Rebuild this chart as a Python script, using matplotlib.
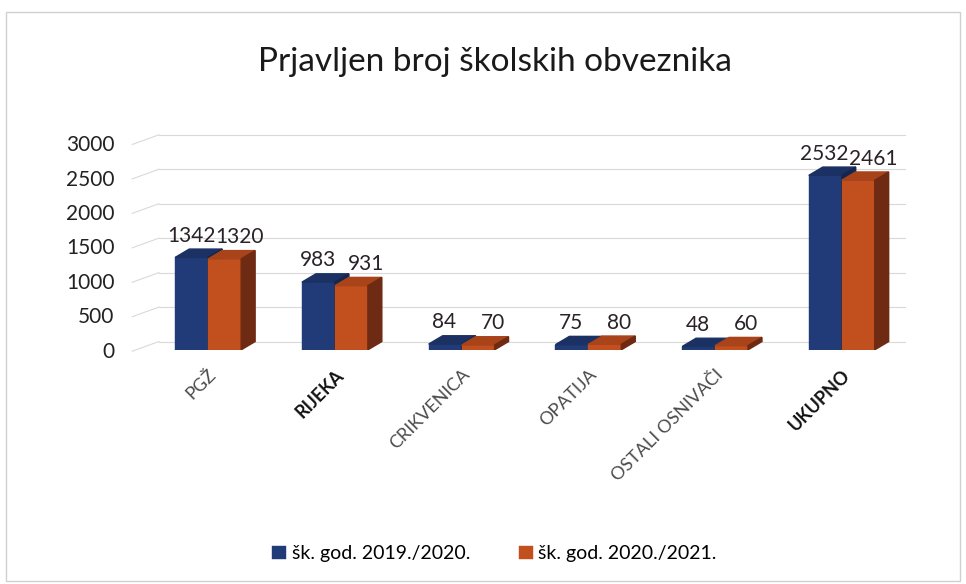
import matplotlib.pyplot as plt
from matplotlib.patches import Polygon, Rectangle
import numpy as np

plt.rcParams['font.family'] = ['Lato', 'DejaVu Sans']

# data
categories = ["PGŽ", "RIJEKA", "CRIKVENICA", "OPATIJA", "OSTALI OSNIVAČI", "UKUPNO"]
series_names = ["šk. god. 2019./2020.", "šk. god. 2020./2021."]
values_1920 = [1342, 983, 84, 75, 48, 2532]
values_2021 = [1320, 931, 70, 80, 60, 2461]
yticks = [0, 500, 1000, 1500, 2000, 2500, 3000]

front_cols = ["#203b78", "#c24f1e"]
top_cols = ["#1b3163", "#a9431a"]
side_cols = ["#142650", "#6e2a12"]

fig = plt.figure(figsize=(9.66, 5.84), dpi=100)
ax = fig.add_axes([0.150, 0.401, 0.787, 0.354])

x = np.arange(len(categories))
w = 0.26      # bar width
dx = 0.11     # depth in x
dy = 120      # depth in y

# back wall gridlines + short slanted floor lines on the left
for t in yticks:
    ax.plot([-0.5 + dx, 5.5], [t + dy, t + dy], color="#d9d9d9", lw=0.8, zorder=0, clip_on=False)
    ax.plot([-0.5 - 0.1, -0.5 + dx], [t - 20, t + dy], color="#d9d9d9", lw=0.8, zorder=0, clip_on=False)

shift = [-0.06, 0.06]
for k, vals in enumerate([values_1920, values_2021]):
    left = x - w + k * w
    ax.bar(left, vals, width=w, align="edge", color=front_cols[k], zorder=3 + k,
           label=series_names[k], edgecolor=front_cols[k], lw=0.3)
    for xl, v in zip(left, vals):
        top = Polygon([(xl, v), (xl + w, v), (xl + w + dx, v + dy), (xl + dx, v + dy)],
                      closed=True, color=top_cols[k], zorder=3 + k)
        side = Polygon([(xl + w, 0), (xl + w + dx, dy), (xl + w + dx, v + dy), (xl + w, v)],
                       closed=True, color=side_cols[k], zorder=3 + k)
        ax.add_patch(top)
        ax.add_patch(side)
    for xc, v in zip(left + w / 2, vals):
        ax.text(xc + dx / 2 + shift[k], v + dy + 50, str(v), ha="center", va="bottom",
                fontsize=15, color="#2a2228", zorder=10)

ax.set_xlim(-0.5, 5.5)
ax.set_ylim(0, 3000)
ax.set_yticks(yticks)
ax.set_yticklabels([str(t) for t in yticks], fontsize=15, color="#222222")
ax.set_xticks(x)
ax.set_xticklabels(categories, rotation=45, ha="right", rotation_mode="anchor",
                   fontsize=13, color="#4a4a4a")
for lab in ax.get_xticklabels():
    if lab.get_text() in ("RIJEKA", "UKUPNO"):
        lab.set_color("#111111")
        lab.set_fontweight("bold")
ax.tick_params(axis="both", length=0)
ax.tick_params(axis="x", pad=12)
ax.tick_params(axis="y", pad=22)
for s in ax.spines.values():
    s.set_visible(False)

fig.text(0.512, 0.893, "Prjavljen broj školskih obveznika", ha="center", va="center",
         fontsize=24, color="#1a1a1a")

handles, labels = ax.get_legend_handles_labels()
fig.legend(handles, labels, loc="center", bbox_to_anchor=(0.512, 0.052), ncol=2,
           frameon=False, fontsize=14, handlelength=0.7, handleheight=0.7,
           handletextpad=0.3, columnspacing=2.5)

fig.patches.append(Rectangle((0.006, 0.005), 0.988, 0.975, transform=fig.transFigure,
                             fill=False, edgecolor="#d0d0d0", lw=1))

fig.savefig("out.png", dpi=100)
